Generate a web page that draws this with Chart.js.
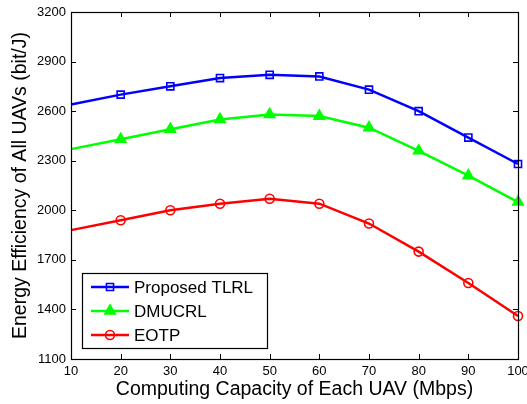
<!DOCTYPE html>
<html>
<head>
<meta charset="utf-8">
<script src="https://cdn.jsdelivr.net/npm/chart.js@4/dist/chart.umd.min.js"></script>
<style>
  html, body { margin: 0; padding: 0; background: #fff; }
  #wrap { width: 527px; height: 404px; position: relative; }
</style>
</head>
<body>
<div id="wrap"><canvas id="eeChart"></canvas></div>
<script>
// Energy efficiency vs. per-UAV computing capacity
const capacity = [10, 20, 30, 40, 50, 60, 70, 80, 90, 100];
const tlrl   = [2640, 2700, 2750, 2800, 2820, 2810, 2730, 2600, 2440, 2280];
const dmucrl = [2370, 2430, 2490, 2550, 2580, 2570, 2500, 2360, 2210, 2050];
const eotp   = [1880, 1940, 2000, 2040, 2070, 2040, 1920, 1750, 1560, 1360];
const seriesNames = ['Proposed TLRL', 'DMUCRL', 'EOTP'];

const FONT = "'Liberation Sans', Arial, Helvetica, sans-serif";

function toPoints(vals) {
  return vals.map((v, i) => ({ x: capacity[i], y: v }));
}

// first sample sits on the left axis without a marker
const hideFirst = r => ctx => ctx.dataIndex === 0 ? 0 : r;

const datasets = [
  {
    label: seriesNames[0],
    data: toPoints(tlrl),
    borderColor: '#0000ff',
    backgroundColor: 'rgba(0,0,0,0)',
    pointStyle: 'rect',
    radius: 5,
    borderWidth: 2.5,
    pointBorderWidth: 1.6
  },
  {
    label: seriesNames[1],
    data: toPoints(dmucrl),
    borderColor: '#00ff00',
    backgroundColor: '#00ff00',
    pointStyle: 'triangle',
    radius: 6,
    borderWidth: 2.5,
    pointBorderWidth: 1.6
  },
  {
    label: seriesNames[2],
    data: toPoints(eotp),
    borderColor: '#ff0000',
    backgroundColor: 'rgba(0,0,0,0)',
    pointStyle: 'circle',
    radius: 4.5,
    borderWidth: 2.5,
    pointBorderWidth: 1.6
  }
];

datasets.forEach(d => {
  d.pointRadius = hideFirst(d.radius);
  d.pointHoverRadius = hideFirst(d.radius);
  d.pointBackgroundColor = d.backgroundColor;
  d.fill = false;
  d.tension = 0;
  d.clip = false;
});

// box around the plot with inward tick marks on all four sides
const frameBox = {
  id: 'frameBox',
  afterDatasetsDraw(chart) {
    const { ctx, chartArea: a, scales: { x, y } } = chart;
    const len = 5;
    ctx.save();
    ctx.strokeStyle = '#000';
    ctx.lineWidth = 1;
    ctx.beginPath();
    x.ticks.forEach(t => {
      const px = Math.round(x.getPixelForValue(t.value)) + 0.5;
      ctx.moveTo(px, a.bottom); ctx.lineTo(px, a.bottom - len);
      ctx.moveTo(px, a.top); ctx.lineTo(px, a.top + len);
    });
    y.ticks.forEach(t => {
      const py = Math.round(y.getPixelForValue(t.value)) + 0.5;
      ctx.moveTo(a.left, py); ctx.lineTo(a.left + len, py);
      ctx.moveTo(a.right, py); ctx.lineTo(a.right - len, py);
    });
    ctx.stroke();
    ctx.lineWidth = 1.2;
    ctx.strokeRect(Math.round(a.left) + 0.5, Math.round(a.top) + 0.5,
      Math.round(a.right - a.left), Math.round(a.bottom - a.top));
    ctx.restore();
  }
};

// legend box in the lower-left corner of the plot
const boxLegend = {
  id: 'boxLegend',
  afterDraw(chart) {
    const { ctx, chartArea: a } = chart;
    const left = a.left + 11, top = a.bottom - 86, w = 185, h = 75;
    ctx.save();
    ctx.fillStyle = '#fff';
    ctx.fillRect(left, top, w, h);
    ctx.strokeStyle = '#000';
    ctx.lineWidth = 1.2;
    ctx.strokeRect(left + 0.5, top + 0.5, w, h);
    ctx.font = '17px ' + FONT;
    ctx.textBaseline = 'middle';
    chart.data.datasets.forEach((d, i) => {
      const cy = top + 14 + i * 24;
      ctx.strokeStyle = d.borderColor;
      ctx.lineWidth = d.borderWidth;
      ctx.beginPath();
      ctx.moveTo(left + 9, cy);
      ctx.lineTo(left + 47, cy);
      ctx.stroke();
      ctx.fillStyle = d.backgroundColor;
      ctx.lineWidth = d.pointBorderWidth;
      Chart.helpers.drawPoint(ctx, {
        pointStyle: d.pointStyle, radius: d.radius, borderWidth: d.pointBorderWidth, rotation: 0
      }, left + 28, cy);
      ctx.fillStyle = '#000';
      ctx.fillText(d.label, left + 52, cy + 1);
    });
    ctx.restore();
  }
};

const tickFont = { family: FONT, size: 13 };
const titleFont = { family: FONT, size: 19.5 };

new Chart(document.getElementById('eeChart'), {
  type: 'line',
  data: { datasets },
  plugins: [frameBox, boxLegend],
  options: {
    responsive: true,
    maintainAspectRatio: false,
    animation: false,
    layout: { padding: { top: 12, right: 9, left: 0, bottom: 0 } },
    plugins: {
      legend: { display: false },
      tooltip: { enabled: false }
    },
    scales: {
      x: {
        type: 'linear',
        min: 10,
        max: 100,
        grid: { display: false, drawTicks: false },
        border: { display: false },
        ticks: {
          stepSize: 10,
          autoSkip: false,
          maxRotation: 0,
          padding: 5,
          color: '#000',
          font: tickFont,
          callback: v => String(v)
        },
        title: {
          display: true,
          text: 'Computing Capacity of Each UAV (Mbps)',
          color: '#000',
          font: titleFont,
          padding: { top: 0, bottom: 3 }
        },
        afterFit(scale) {
          scale.height = 45;
          scale.paddingLeft = 0;
          scale.paddingRight = 0;
        }
      },
      y: {
        min: 1100,
        max: 3200,
        grid: { display: false, drawTicks: false },
        border: { display: false },
        ticks: {
          stepSize: 300,
          autoSkip: false,
          padding: 5,
          color: '#000',
          font: tickFont,
          callback: v => String(v)
        },
        title: {
          display: true,
          text: 'Energy Efficiency of All UAVs (bit/J)',
          color: '#000',
          font: titleFont,
          padding: { top: 8.5, bottom: 0 }
        },
        afterFit(scale) {
          scale.width = 71;
          scale.paddingTop = 0;
          scale.paddingBottom = 0;
        }
      }
    }
  }
});
</script>
</body>
</html>
